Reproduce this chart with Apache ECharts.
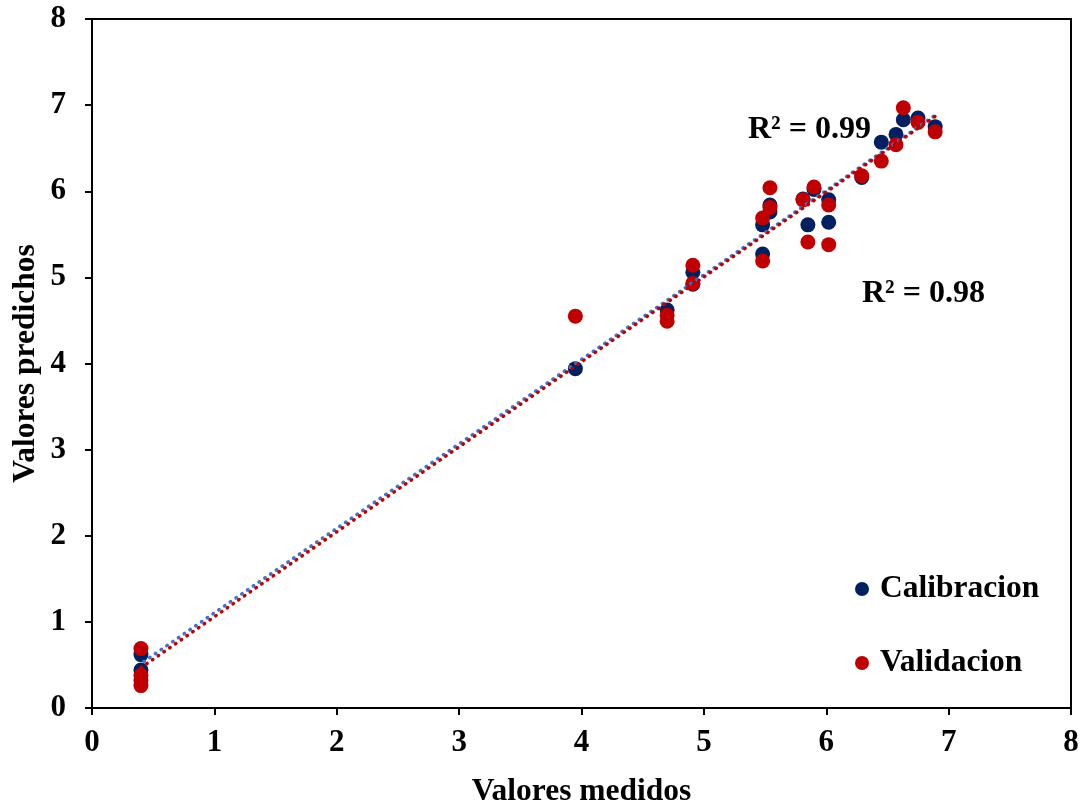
<!DOCTYPE html>
<html>
<head>
<meta charset="utf-8">
<script src="https://cdn.jsdelivr.net/npm/echarts@6/dist/echarts.min.js"></script>
<style>
  html, body { margin: 0; padding: 0; background: #fff; }
  #chart { width: 1081px; height: 806px; }
</style>
</head>
<body>
<div id="chart"></div>
<script>
// Measured vs predicted values for the two data sets
const calibracionX = [0.40, 0.40, 3.95, 4.70, 4.91, 4.91, 5.48, 5.48, 5.54, 5.54, 5.81, 5.85, 5.90, 6.02, 6.02, 6.29, 6.45, 6.57, 6.63, 6.75, 6.89];
const calibracionY = [0.62, 0.44, 3.94, 4.62, 5.06, 4.92, 5.61, 5.27, 5.84, 5.76, 5.91, 5.61, 6.02, 5.90, 5.64, 6.16, 6.57, 6.66, 6.83, 6.85, 6.75];

const validacionX = [0.40, 0.40, 0.40, 0.40, 3.95, 4.70, 4.70, 4.91, 4.91, 5.48, 5.48, 5.54, 5.54, 5.81, 5.85, 5.90, 6.02, 6.02, 6.29, 6.45, 6.57, 6.63, 6.75, 6.89];
const validacionY = [0.69, 0.38, 0.32, 0.26, 4.55, 4.56, 4.49, 5.14, 4.93, 5.69, 5.19, 6.04, 5.81, 5.90, 5.41, 6.05, 5.84, 5.38, 6.18, 6.35, 6.54, 6.97, 6.80, 6.69];

const r2Labels = ['R² = 0.99', 'R² = 0.98'];
const axisTicks = [0, 1, 2, 3, 4, 5, 6, 7, 8];

const NAVY = '#002060';
const RED = '#C00000';
const BLUE_TREND = '#4472C4';
const FONT = '"Liberation Serif", "Times New Roman", serif';

function pairs(xs, ys) { return xs.map((x, i) => [x, ys[i]]); }

// Least-squares straight line through a set of points, spanning its x range
function trend(xs, ys) {
  const n = xs.length;
  const mx = xs.reduce((a, b) => a + b, 0) / n;
  const my = ys.reduce((a, b) => a + b, 0) / n;
  let sxy = 0, sxx = 0;
  for (let i = 0; i < n; i++) { sxy += (xs[i] - mx) * (ys[i] - my); sxx += (xs[i] - mx) ** 2; }
  const b = sxy / sxx, a = my - b * mx;
  const x0 = Math.min(...xs), x1 = Math.max(...xs);
  return [[x0, a + b * x0], [x1, a + b * x1]];
}

const chart = echarts.init(document.getElementById('chart'), null, { renderer: 'canvas' });

const axisCommon = {
  type: 'value',
  min: axisTicks[0],
  max: axisTicks[axisTicks.length - 1],
  interval: 1,
  splitLine: { show: false },
  axisLine: { show: true, onZero: false, lineStyle: { color: '#000', width: 2 } },
  axisTick: { show: true, inside: false, length: 7, lineStyle: { color: '#000', width: 2 } },
  axisLabel: { color: '#000', fontFamily: FONT, fontWeight: 'bold', fontSize: 31 },
  nameLocation: 'middle',
  nameMoveOverlap: false,
  nameTextStyle: { color: '#000', fontFamily: FONT, fontWeight: 'bold', fontSize: 31.5 }
};

chart.setOption({
  animation: false,
  backgroundColor: '#fff',
  grid: {
    left: 92, right: 10, top: 19, bottom: 98,
    containLabel: false, outerBoundsMode: 'none',
    show: true, borderColor: '#000', borderWidth: 2, backgroundColor: 'transparent'
  },
  xAxis: Object.assign({}, axisCommon, {
    name: 'Valores medidos', nameGap: 68,
    axisLabel: Object.assign({}, axisCommon.axisLabel, { margin: 19 })
  }),
  yAxis: Object.assign({}, axisCommon, {
    name: 'Valores predichos', nameGap: 50,
    axisLabel: Object.assign({}, axisCommon.axisLabel, { margin: 26 })
  }),
  legend: {
    orient: 'vertical',
    left: 850, top: 568,
    itemWidth: 14, itemHeight: 14, itemGap: 42,
    icon: 'circle',
    data: ['Calibracion', 'Validacion'],
    textStyle: { color: '#000', fontFamily: FONT, fontWeight: 'bold', fontSize: 31.5, padding: [0, 0, 0, 6] }
  },
  graphic: [
    { type: 'text', left: 748, top: 114, style: { text: r2Labels[0], font: 'bold 32px ' + FONT, fill: '#000' } },
    { type: 'text', left: 862, top: 278, style: { text: r2Labels[1], font: 'bold 32px ' + FONT, fill: '#000' } }
  ],
  series: [
    {
      name: 'Calibracion', type: 'scatter', symbolSize: 15, z: 2,
      itemStyle: { color: NAVY, opacity: 1 },
      data: pairs(calibracionX, calibracionY)
    },
    {
      name: 'Validacion', type: 'scatter', symbolSize: 15, z: 3,
      itemStyle: { color: RED, opacity: 1 },
      data: pairs(validacionX, validacionY)
    },
    {
      name: 'Tendencia calibracion', type: 'line', symbol: 'none', z: 4, silent: true,
      lineStyle: { color: BLUE_TREND, width: 3.5, type: [0.5, 6.5], cap: 'round', dashOffset: 3.5 },
      data: trend(calibracionX, calibracionY)
    },
    {
      name: 'Tendencia validacion', type: 'line', symbol: 'none', z: 5, silent: true,
      lineStyle: { color: RED, width: 3.5, type: [0.5, 6.5], cap: 'round' },
      data: trend(validacionX, validacionY)
    }
  ]
});
</script>
</body>
</html>
